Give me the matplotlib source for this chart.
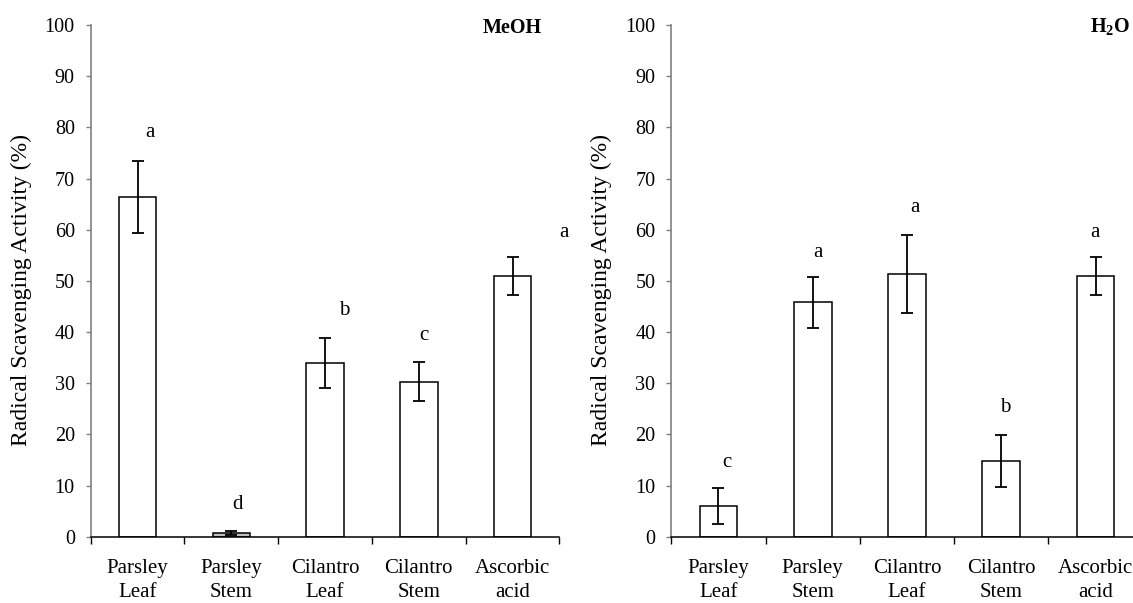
# Radical scavenging activity of parsley / cilantro extracts (MeOH vs H2O)
import numpy as np
import matplotlib
matplotlib.use("Agg")
import matplotlib.pyplot as plt

plt.rcParams['font.family'] = ['Liberation Serif', 'DejaVu Serif']
plt.rcParams['mathtext.fontset'] = 'custom'
plt.rcParams['mathtext.rm'] = 'Liberation Serif'
plt.rcParams['mathtext.bf'] = 'Liberation Serif:bold'

# data
categories = ['Parsley\nLeaf', 'Parsley\nStem', 'Cilantro\nLeaf', 'Cilantro\nStem', 'Ascorbic\nacid']

meoh_vals = [66.4, 0.7, 33.9, 30.3, 50.9]
meoh_err = [7.0, 0.45, 4.9, 3.8, 3.75]
meoh_letters = ['a', 'd', 'b', 'c', 'a']
meoh_letter_x = [0.13, 1.07, 2.20, 3.05, 4.55]
meoh_letter_y = [78.2, 5.35, 43.3, 38.4, 58.5]

h2o_vals = [6.06, 45.8, 51.3, 14.85, 50.9]
h2o_err = [3.5, 5.0, 7.6, 5.05, 3.75]
h2o_letters = ['c', 'a', 'a', 'b', 'a']
h2o_letter_x = [0.09, 1.05, 2.08, 3.04, 3.99]
h2o_letter_y = [13.7, 54.7, 63.5, 24.4, 58.5]

yticks = list(range(0, 101, 10))

fig = plt.figure(figsize=(11.33, 6.03), dpi=100)
ax1 = fig.add_axes([0.0801, 0.1099, 0.4136, 0.8486])
ax2 = fig.add_axes([0.5925, 0.1099, 0.4161, 0.8486])


def draw_panel(ax, vals, errs, letters, lx, ly, fills):
    x = np.arange(len(vals))
    ax.bar(x, vals, width=0.4, color=fills, edgecolor='black', linewidth=1.1, zorder=2)
    ax.errorbar(x, vals, yerr=errs, fmt='none', ecolor='black', elinewidth=1.3,
                capsize=4, capthick=1.3, zorder=3)
    for t, xx, yy in zip(letters, lx, ly):
        ax.text(xx, yy, t, ha='center', va='baseline', fontsize=15, clip_on=False)

    ax.set_xlim(-0.5, len(vals) - 0.5)
    ax.set_ylim(0, 100)
    ax.set_yticks(yticks)
    ax.tick_params(axis='y', labelsize=14.5, length=3.5, width=1, pad=8, color='#808080')

    # ticks between categories, labels centred under the bars
    ax.set_xticks(np.arange(len(vals) + 1) - 0.5)
    ax.set_xticklabels([])
    ax.set_xticks(x, minor=True)
    ax.set_xticklabels(categories, minor=True, fontsize=15, linespacing=1.35)
    ax.tick_params(axis='x', which='major', length=5, width=1, direction='out')
    ax.tick_params(axis='x', which='minor', length=0, pad=16)

    for s in ['top', 'right']:
        ax.spines[s].set_visible(False)
    ax.spines['left'].set_color('#808080')
    ax.spines['left'].set_linewidth(1.2)
    ax.spines['bottom'].set_color('black')
    ax.spines['bottom'].set_linewidth(1.1)

    ax.set_ylabel('Radical Scavenging Activity (%)', fontsize=17)
    ax.yaxis.set_label_coords(-0.125, 0.482)


draw_panel(ax1, meoh_vals, meoh_err, meoh_letters, meoh_letter_x, meoh_letter_y,
           ['white', '#c0c0c0', 'white', 'white', 'white'])
draw_panel(ax2, h2o_vals, h2o_err, h2o_letters, h2o_letter_x, h2o_letter_y,
           ['white'] * 5)

ax1.text(4.0, 98.5, 'MeOH', ha='center', va='baseline', fontsize=14.5, fontweight='bold')
ax2.text(3.94, 98.5, r'H$_\mathbf{2}$O', ha='left', va='baseline', fontsize=14.5,
         fontweight='bold', clip_on=False)

fig.savefig('out.png', dpi=100)
